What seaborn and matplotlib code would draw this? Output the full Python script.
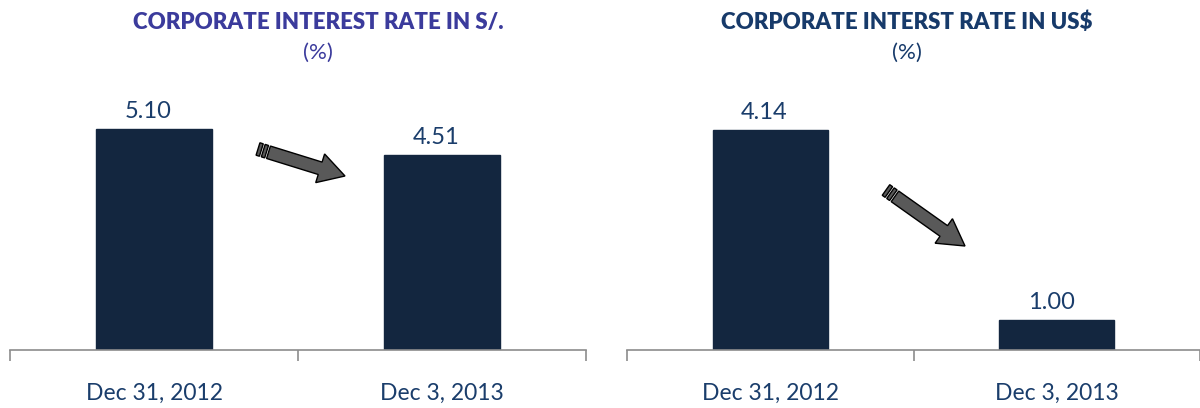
import numpy as np
import pandas as pd
import seaborn as sns
import matplotlib
matplotlib.use("Agg")
import matplotlib.pyplot as plt
from matplotlib.patches import Polygon

dates = ["Dec 31, 2012", "Dec 3, 2013"]
rate_pen = [5.10, 4.51]
rate_usd = [4.14, 1.00]
titles = ["CORPORATE INTEREST RATE IN S/.", "CORPORATE INTERST RATE IN US$"]

W, H = 1200, 408
bar_col = "#13263f"
navy = "#1a3d6b"

sns.set_style("white")
plt.rcParams["font.family"] = ["Lato", "DejaVu Sans"]

fig = plt.figure(figsize=(12, 4.08), dpi=100)

'''
axes placed in pixels (left, right, bottom, top), top-origin
'''
def add_ax(x0, x1, ybot, ytop):
    return fig.add_axes([x0 / W, 1 - ybot / H, (x1 - x0) / W, (ybot - ytop) / H])

'''
gray block arrow with striped tail, drawn in pixel coords (top-origin)
'''
def block_arrow(p0, p1, shaft=13, head_w=30, head_l=26):
    p0, p1 = np.array(p0, float), np.array(p1, float)
    d = p1 - p0
    L = np.hypot(*d)
    u = d / L
    n = np.array([-u[1], u[0]])
    def P(a, b):
        q = p0 + u * a + n * b
        return (q[0] / W, 1 - q[1] / H)
    s = shaft / 2
    body = [P(11, -s), P(L - head_l, -s), P(L - head_l, -head_w / 2), P(L, 0),
            P(L - head_l, head_w / 2), P(L - head_l, s), P(11, s)]
    fig.patches.append(Polygon(body, closed=True, facecolor="#595959", edgecolor="black",
                               lw=1, transform=fig.transFigure, figure=fig))
    for a in [0, 5.5]:
        strip = [P(a, -s), P(a + 3.5, -s), P(a + 3.5, s), P(a, s)]
        fig.patches.append(Polygon(strip, closed=True, facecolor="#595959", edgecolor="black",
                                   lw=1, transform=fig.transFigure, figure=fig))

def panel(ax, values, ylim, title, title_col, title_x):
    df = pd.DataFrame({"date": dates, "rate": values})
    sns.barplot(data=df, x="date", y="rate", color=bar_col, width=0.40, ax=ax,
                saturation=1, edgecolor=bar_col)
    ax.set_ylim(*ylim)
    ax.set_xlim(-0.5, 1.5)
    for i, v in enumerate(values):
        ax.text(i - 0.02, v + (ylim[1] - ylim[0]) * 0.028, "%.2f" % v, ha="center", va="bottom",
                fontsize=17, color=navy)
    for s in ["top", "right", "left"]:
        ax.spines[s].set_visible(False)
    ax.spines["bottom"].set_color("#8c8c8c")
    ax.spines["bottom"].set_linewidth(1.2)
    ax.set_yticks([])
    ax.set_xlabel("")
    ax.set_ylabel("")
    ax.set_xticks([0, 1])
    ax.set_xticklabels(dates, fontsize=16.5, color=navy)
    ax.tick_params(axis="x", which="major", length=0, pad=24)
    ax.set_xticks([-0.5, 0.5, 1.5], minor=True)
    ax.tick_params(axis="x", which="minor", bottom=True, length=8, width=1.2,
                   color="#8c8c8c", direction="out")
    fig.text(title_x / W, 1 - 22 / H, title, ha="center", va="center", fontsize=16,
             fontweight="heavy", color=title_col)
    fig.text(title_x / W, 1 - 53 / H, "(%)", ha="center", va="center", fontsize=16,
             color=title_col)

ax1 = add_ax(10, 586, 350, 100)
ax2 = add_ax(627, 1200, 350, 100)
panel(ax1, rate_pen, (0, 5.77), titles[0], "#3b3b9c", 318)
panel(ax2, rate_usd, (0.5, 4.64), titles[1], "#173a6a", 907)

block_arrow((258, 149), (345, 176))
block_arrow((886, 190), (965, 246))

fig.savefig("out.png", dpi=100)
